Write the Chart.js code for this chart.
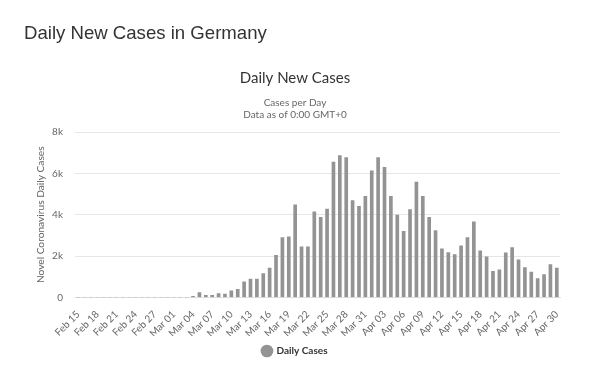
<!DOCTYPE html>
<html><head><meta charset="utf-8">
<script src="https://cdn.jsdelivr.net/npm/chart.js@4.4.1/dist/chart.umd.min.js"></script>
<style>
html,body{margin:0;padding:0;background:#fff;width:610px;height:367px;overflow:hidden;}
#heading{position:absolute;left:24px;top:22px;font:18.6px "Liberation Sans",Arial,sans-serif;color:#333;white-space:nowrap;}
#wrap{position:absolute;left:0;top:0;width:610px;height:367px;}
</style></head><body>
<div id="wrap"><canvas id="c" width="610" height="367"></canvas></div>
<div id="heading">Daily New Cases in Germany</div>
<script>
const categories = [
  'Feb 15','Feb 16','Feb 17','Feb 18','Feb 19','Feb 20','Feb 21','Feb 22','Feb 23','Feb 24','Feb 25','Feb 26','Feb 27','Feb 28','Feb 29',
  'Mar 01','Mar 02','Mar 03','Mar 04','Mar 05','Mar 06','Mar 07','Mar 08','Mar 09','Mar 10','Mar 11','Mar 12','Mar 13','Mar 14','Mar 15','Mar 16',
  'Mar 17','Mar 18','Mar 19','Mar 20','Mar 21','Mar 22','Mar 23','Mar 24','Mar 25','Mar 26','Mar 27','Mar 28','Mar 29','Mar 30','Mar 31',
  'Apr 01','Apr 02','Apr 03','Apr 04','Apr 05','Apr 06','Apr 07','Apr 08','Apr 09','Apr 10','Apr 11','Apr 12','Apr 13','Apr 14','Apr 15',
  'Apr 16','Apr 17','Apr 18','Apr 19','Apr 20','Apr 21','Apr 22','Apr 23','Apr 24','Apr 25','Apr 26','Apr 27','Apr 28','Apr 29','Apr 30'
];
const dailyCases = [
  0,0,0,0,0,0,0,0,0,0,0,0,0,0,0,
  0,0,0,60,240,110,110,190,160,320,390,760,890,890,1160,1420,
  2040,2900,2930,4475,2450,2450,4140,3880,4280,6550,6860,6760,4685,4410,4890,
  6120,6760,6295,4890,3990,3200,4250,5585,4890,3880,3235,2350,2170,2075,2495,
  2900,3655,2255,1965,1270,1335,2160,2415,1820,1450,1225,920,1110,1595,1420
];
const yTickValues = [0, 2000, 4000, 6000, 8000];
const yTickLabels = ['0', '2k', '4k', '6k', '8k'];
const xTickEvery = 3;

const FONT = 'Lato, "Liberation Sans", sans-serif';

new Chart(document.getElementById('c'), {
  type: 'bar',
  data: {
    labels: categories,
    datasets: [{
      label: 'Daily Cases',
      data: dailyCases,
      backgroundColor: '#939393',
      borderWidth: 0,
      barThickness: 3
    }]
  },
  options: {
    responsive: false,
    animation: false,
    devicePixelRatio: 1,
    layout: { padding: { left: 30, right: 50, top: 0, bottom: 1 } },
    plugins: {
      title: {
        display: true,
        text: 'Daily New Cases',
        color: '#333',
        font: { family: FONT, size: 15, weight: 'normal' },
        padding: { top: 69, bottom: 6 }
      },
      subtitle: {
        display: true,
        text: ['Cases per Day', 'Data as of 0:00 GMT+0'],
        color: '#666',
        font: { family: FONT, size: 10, weight: 'normal' },
        padding: { top: 4, bottom: 11 }
      },
      legend: {
        position: 'bottom',
        labels: {
          usePointStyle: true,
          pointStyle: 'circle',
          boxWidth: 9,
          boxHeight: 9,
          padding: 10,
          color: '#333',
          font: { family: FONT, size: 10, weight: 'bold' }
        }
      },
      tooltip: { enabled: false }
    },
    scales: {
      x: {
        grid: { display: false },
        border: { display: true, color: '#e0e0e0' },
        ticks: {
          autoSkip: false,
          minRotation: 45,
          maxRotation: 45,
          padding: 3,
          color: '#666',
          font: { family: FONT, size: 10 },
          callback: (v, i) => (i % xTickEvery === 0 ? categories[i] : '')
        },
        afterFit: (s) => { s.height = 38.5; }
      },
      y: {
        min: 0,
        max: 8000,
        ticks: {
          stepSize: 2000,
          padding: 12,
          color: '#666',
          font: { family: FONT, size: 10 },
          callback: (v) => yTickLabels[yTickValues.indexOf(v)]
        },
        grid: { color: '#e6e6e6', drawTicks: false },
        border: { display: false },
        title: {
          display: true,
          text: 'Novel Coronavirus Daily Cases',
          color: '#666',
          font: { family: FONT, size: 10.2 },
          padding: { top: 5, bottom: 0 }
        },
        afterFit: (s) => { s.width = 45; }
      }
    }
  }
});
</script>
</body></html>
